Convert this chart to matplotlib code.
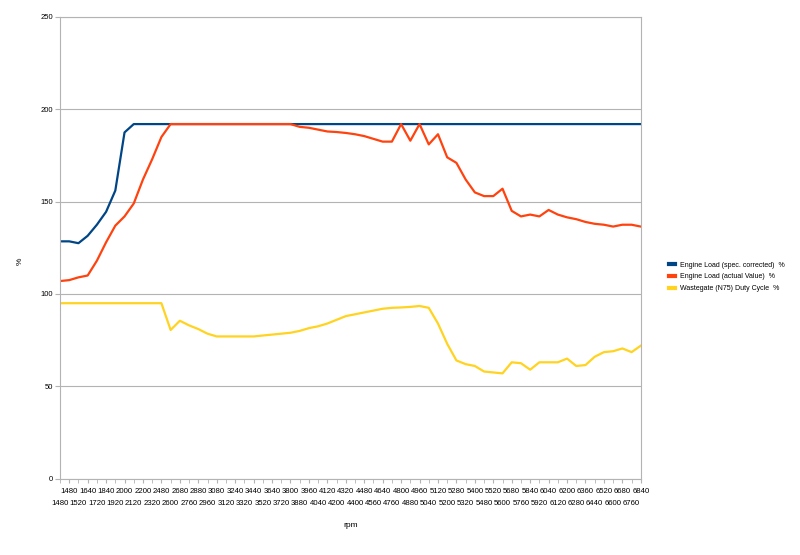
import matplotlib
matplotlib.use("Agg")
import matplotlib.pyplot as plt

rpm = [1480, 1480, 1520, 1640, 1720, 1840, 1920, 2000, 2120, 2200, 2320, 2480,
       2600, 2680, 2760, 2880, 2960, 3080, 3120, 3240, 3320, 3440, 3520, 3640,
       3720, 3800, 3880, 3960, 4040, 4120, 4200, 4320, 4400, 4480, 4560, 4640,
       4760, 4800, 4880, 4960, 5040, 5120, 5200, 5280, 5320, 5400, 5480, 5520,
       5600, 5680, 5760, 5840, 5920, 6040, 6120, 6200, 6280, 6360, 6440, 6520,
       6600, 6680, 6760, 6840]

load_spec = [128.5, 128.5, 127.5, 131.5, 137.5, 144.5, 156, 187.5, 192, 192, 192, 192,
             192, 192, 192, 192, 192, 192, 192, 192, 192, 192, 192, 192,
             192, 192, 192, 192, 192, 192, 192, 192, 192, 192, 192, 192,
             192, 192, 192, 192, 192, 192, 192, 192, 192, 192, 192, 192,
             192, 192, 192, 192, 192, 192, 192, 192, 192, 192, 192, 192,
             192, 192, 192, 192]

load_actual = [107, 107.5, 109, 110, 118, 128, 137, 142, 149, 162, 173, 185,
               192, 192, 192, 192, 192, 192, 192, 192, 192, 192, 192, 192,
               192, 192, 190.5, 190, 189, 188, 187.7, 187.2, 186.5, 185.5, 184, 182.5,
               182.5, 192, 183, 192, 181, 186.5, 174, 171, 162, 155, 153, 153,
               157, 145, 142, 143, 142, 145.5, 143, 141.5, 140.5, 139, 138, 137.5,
               136.5, 137.5, 137.5, 136.5]

wastegate = [95, 95, 95, 95, 95, 95, 95, 95, 95, 95, 95, 95,
             80.5, 85.5, 83, 81, 78.5, 77, 77, 77, 77, 77, 77.5, 78,
             78.5, 79, 80, 81.5, 82.5, 84, 86, 88, 89, 90, 91, 92,
             92.5, 92.7, 93, 93.5, 92.5, 84, 73, 64, 62, 61, 58, 57.5,
             57, 63, 62.5, 59, 63, 63, 63, 65, 61, 61.5, 66, 68.5,
             69, 70.5, 68.5, 72]

series_names = ["Engine Load (spec. corrected)  %",
                "Engine Load (actual Value)  %",
                "Wastegate (N75) Duty Cycle  %"]
colors = ["#004586", "#ff420e", "#ffd320"]

plt.rcParams["font.family"] = ["Liberation Sans", "DejaVu Sans"]
grey = "#b3b3b3"

fig = plt.figure(figsize=(8, 5.55), dpi=100)
ax = fig.add_axes([0.075, 0.1376, 0.726, 0.8318])

x = list(range(len(rpm)))
for vals, name, c in zip([load_spec, load_actual, wastegate], series_names, colors):
    ax.plot(x, vals, color=c, lw=1.6, label=name, solid_joinstyle="round")

ax.set_xlim(0, len(rpm) - 1)
ax.set_ylim(0, 250)
ax.set_yticks([0, 50, 100, 150, 200, 250])
ax.grid(axis="y", color=grey, lw=0.8)
ax.set_axisbelow(True)
for s in ax.spines.values():
    s.set_color(grey)
    s.set_linewidth(0.8)

# staggered category labels: odd on upper row, even on lower row
narrow = ["Liberation Sans Narrow", "Liberation Sans", "DejaVu Sans"]
odd = x[1::2]
even = x[0::2]
ax.set_xticks(odd, [str(rpm[i]) for i in odd])
ax.set_xticks(even, [str(rpm[i]) for i in even], minor=True)
for lab in ax.get_xticklabels() + ax.get_xticklabels(minor=True):
    lab.set_family(narrow)
ax.tick_params(axis="x", which="major", length=3, color=grey, labelsize=5.6, pad=3.5)
ax.tick_params(axis="x", which="minor", length=3, color=grey, labelsize=5.6, pad=12.2)
ax.tick_params(axis="y", length=3.6, color=grey, labelsize=5.5, pad=1.5)

ax.set_xlabel("rpm", fontsize=6)
ax.xaxis.set_label_coords(0.5, -0.095)
ax.set_ylabel("%", fontsize=6)
ax.yaxis.set_label_coords(-0.062, 0.47)

leg = ax.legend(loc="center left", bbox_to_anchor=(1.038, 0.437), frameon=False,
                fontsize=5, handlelength=0.9, handletextpad=0.6, labelspacing=0.7)
for h in leg.get_lines():
    h.set_linewidth(3)

fig.savefig("out.png", dpi=100, facecolor="white")
